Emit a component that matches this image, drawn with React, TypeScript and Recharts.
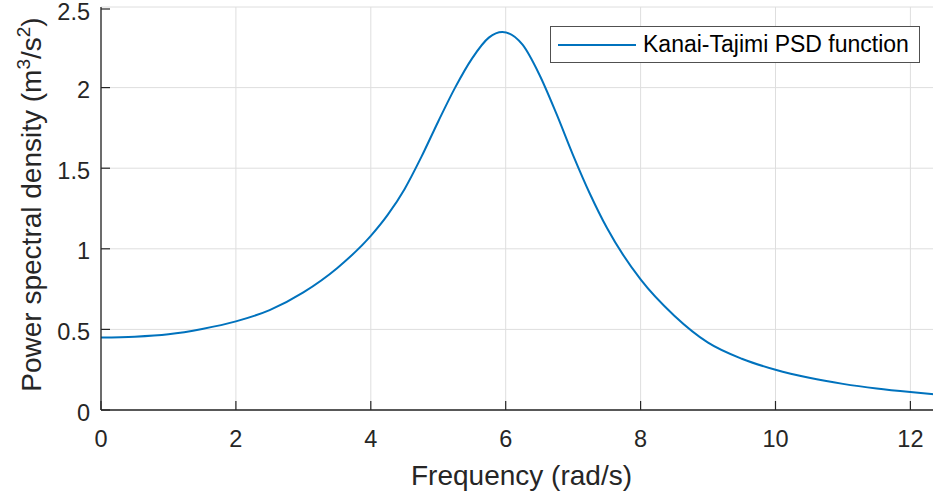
import { LineChart, Line, XAxis, YAxis, CartesianGrid, Label } from 'recharts';

// Kanai-Tajimi spectrum sampled along the frequency axis
const frequency = [0, 0.5, 1, 1.5, 2, 2.5, 3, 3.5, 4, 4.25, 4.5, 4.75, 5, 5.25, 5.5, 5.75, 5.95, 6.25, 6.5, 6.75, 7, 7.25, 7.5, 8, 8.5, 9, 9.5, 10, 10.5, 11, 11.5, 12, 12.35];
const psd = [0.45, 0.455, 0.47, 0.503, 0.55, 0.62, 0.73, 0.88, 1.08, 1.21, 1.37, 1.57, 1.79, 2.0, 2.18, 2.31, 2.345, 2.266, 2.08, 1.84, 1.58, 1.34, 1.13, 0.81, 0.585, 0.418, 0.318, 0.25, 0.2, 0.162, 0.133, 0.111, 0.098];

const xTicks = [0, 2, 4, 6, 8, 10, 12];
const yTicks = [0, 0.5, 1, 1.5, 2, 2.5];

const seriesName = 'Kanai-Tajimi PSD function';

const data = frequency.map((f, i) => ({ f, s: psd[i] }));

const FONT = '"Liberation Sans", Arial, Helvetica, sans-serif';
const INK = '#262626';
const BLUE = '#0072BD';

// MATLAB-style ticks: marks point into the plot area
const XTick = ({ x, y, payload }: any) => (
  <g>
    <line x1={x} x2={x} y1={y} y2={y - 9} stroke={INK} strokeWidth={1.2} />
    <text x={x} y={y + 37} textAnchor="middle" fontSize={23.5} fill={INK} fontFamily={FONT}>
      {payload.value}
    </text>
  </g>
);

const YTick = ({ x, y, payload }: any) => (
  <g>
    <line x1={x} x2={x + 9} y1={y} y2={y} stroke={INK} strokeWidth={1.2} />
    <text x={x - 11} y={y + 10.5} textAnchor="end" fontSize={23.5} fill={INK} fontFamily={FONT}>
      {payload.value}
    </text>
  </g>
);

const YLabel = ({ viewBox }: any) => {
  const cx = viewBox.x + 41;
  const cy = viewBox.y + viewBox.height / 2 - 4;
  return (
    <text
      x={cx}
      y={cy}
      transform={`rotate(-90, ${cx}, ${cy})`}
      textAnchor="middle"
      fontSize={28}
      fill={INK}
      fontFamily={FONT}
    >
      Power spectral density (m
      <tspan dy={-11} fontSize={19}>3</tspan>
      <tspan dy={11}>/s</tspan>
      <tspan dy={-11} fontSize={19}>2</tspan>
      <tspan dy={11}>)</tspan>
    </text>
  );
};

const XLabel = ({ viewBox }: any) => (
  <text
    x={viewBox.x + viewBox.width / 2 + 4}
    y={viewBox.y + 75}
    textAnchor="middle"
    fontSize={28}
    fill={INK}
    fontFamily={FONT}
  >
    Frequency (rad/s)
  </text>
);

// legend box floats over the plot, outside of recharts' layout
const LegendBox = () => (
  <div
    style={{
      position: 'absolute',
      left: 550,
      top: 26,
      width: 368,
      height: 35,
      border: '1px solid #505050',
      background: '#fff',
      display: 'flex',
      alignItems: 'center',
      fontFamily: FONT,
      fontSize: 23,
      color: '#000',
    }}
  >
    <svg width={85} height={10} style={{ marginLeft: 7 }}>
      <line x1={0} x2={78} y1={5} y2={5} stroke={BLUE} strokeWidth={2} />
    </svg>
    <span style={{ whiteSpace: 'nowrap' }}>{seriesName}</span>
  </div>
);

export default function App() {
  return (
    <div style={{ position: 'absolute', left: 0, top: 0, width: 934, height: 496, background: '#fff' }}>
      <LineChart
        width={934}
        height={496}
        data={data}
        margin={{ top: 7, right: 0, bottom: 0, left: 0 }}
        style={{ fontFamily: FONT }}
      >
        <CartesianGrid stroke="#dedede" strokeWidth={1} />
        <XAxis
          dataKey="f"
          type="number"
          domain={[0, 12.35]}
          ticks={xTicks}
          allowDataOverflow
          height={86}
          tickSize={0}
          tickMargin={0}
          tick={<XTick />}
          axisLine={{ stroke: INK, strokeWidth: 1.3 }}
        >
          <Label content={<XLabel />} />
        </XAxis>
        <YAxis
          type="number"
          domain={[0, 2.5]}
          ticks={yTicks}
          width={101}
          tickSize={0}
          tickMargin={0}
          tick={<YTick />}
          axisLine={{ stroke: INK, strokeWidth: 1.3 }}
        >
          <Label content={<YLabel />} />
        </YAxis>
        <Line
          type="monotone"
          dataKey="s"
          name={seriesName}
          stroke={BLUE}
          strokeWidth={2}
          dot={false}
          isAnimationActive={false}
        />
      </LineChart>
      <LegendBox />
    </div>
  );
}
